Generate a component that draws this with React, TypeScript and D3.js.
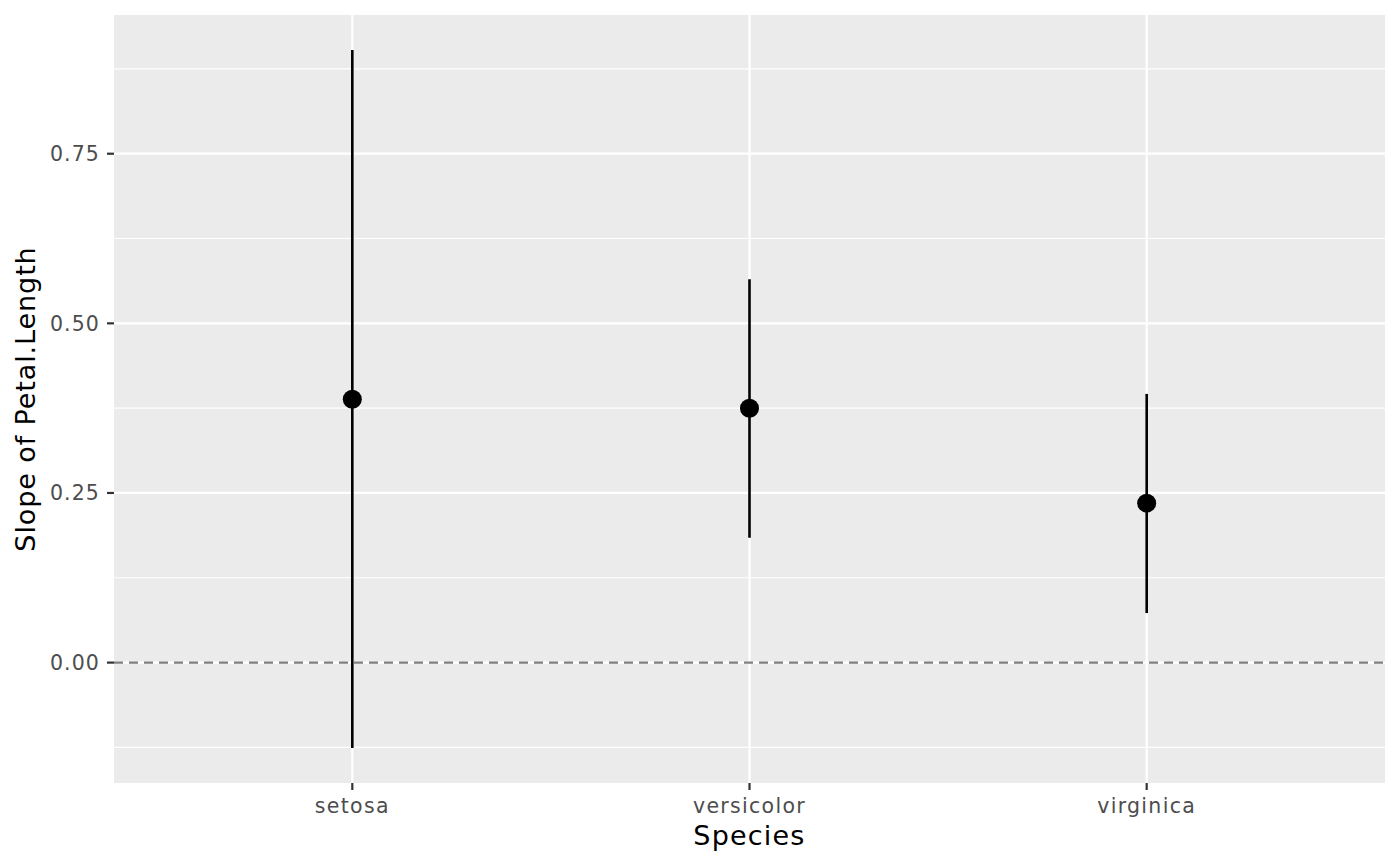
import * as d3 from 'd3';

const species = ['setosa', 'versicolor', 'virginica'];
const slope = [0.388, 0.375, 0.235];
const lower = [-0.126, 0.184, 0.073];
const upper = [0.903, 0.565, 0.396];
const yTicks = [0, 0.25, 0.5, 0.75];
const yMinor = [-0.125, 0.125, 0.375, 0.625, 0.875];

const width = 1400;
const height = 866;
const panel = { left: 114, right: 1385, top: 15, bottom: 783 };

const App = () => {
  const xScale = d3.scalePoint<string>()
    .domain(species)
    .range([panel.left, panel.right])
    .padding(0.6);

  const lo = d3.min(lower)!;
  const hi = d3.max(upper)!;
  const pad = (hi - lo) * 0.05;
  const yScale = d3.scaleLinear()
    .domain([lo - pad, hi + pad])
    .range([panel.bottom, panel.top]);

  const font = "'DejaVu Sans', sans-serif";

  return (
    <svg width={width} height={height} style={{ position: 'absolute', left: 0, top: 0 }}>
      <rect x={0} y={0} width={width} height={height} fill="#fff" />
      <rect x={panel.left} y={panel.top} width={panel.right - panel.left}
        height={panel.bottom - panel.top} fill="#ebebeb" />
      {yMinor.map(v => (
        <line key={'m' + v} x1={panel.left} x2={panel.right} y1={yScale(v)} y2={yScale(v)}
          stroke="#fff" strokeWidth={1.1} />
      ))}
      {yTicks.map(v => (
        <line key={'g' + v} x1={panel.left} x2={panel.right} y1={yScale(v)} y2={yScale(v)}
          stroke="#fff" strokeWidth={2.2} />
      ))}
      {species.map(s => (
        <line key={'v' + s} x1={xScale(s)} x2={xScale(s)} y1={panel.top} y2={panel.bottom}
          stroke="#fff" strokeWidth={2.2} />
      ))}
      <line x1={panel.left} x2={panel.right} y1={yScale(0)} y2={yScale(0)}
        stroke="#7f7f7f" strokeWidth={2.2} strokeDasharray="9,6" />
      {species.map((s, i) => (
        <g key={'p' + s}>
          <line x1={xScale(s)} x2={xScale(s)} y1={yScale(lower[i])} y2={yScale(upper[i])}
            stroke="#000" strokeWidth={2.6} />
          <circle cx={xScale(s)} cy={yScale(slope[i])} r={9.5} fill="#000" />
        </g>
      ))}
      {/* y axis */}
      {yTicks.map(v => (
        <g key={'t' + v}>
          <line x1={panel.left - 7} x2={panel.left} y1={yScale(v)} y2={yScale(v)}
            stroke="#333" strokeWidth={2.2} />
          <text x={panel.left - 14} y={yScale(v)} dy="0.36em" textAnchor="end"
            fontFamily={font} fontSize={20.5} letterSpacing={1.1} fill="#4d4d4d">{d3.format('.2f')(v)}</text>
        </g>
      ))}
      {/* x axis */}
      {species.map(s => (
        <g key={'x' + s}>
          <line x1={xScale(s)} x2={xScale(s)} y1={panel.bottom} y2={panel.bottom + 7}
            stroke="#333" strokeWidth={2.2} />
          <text x={xScale(s)} y={panel.bottom + 30} textAnchor="middle"
            fontFamily={font} fontSize={20.5} letterSpacing={1.3} fill="#4d4d4d">{s}</text>
        </g>
      ))}
      <text x={(panel.left + panel.right) / 2} y={845} textAnchor="middle"
        fontFamily={font} fontSize={27} letterSpacing={1.2} fill="#000">Species</text>
      <text transform={`translate(35,${(panel.top + panel.bottom) / 2}) rotate(-90)`}
        textAnchor="middle" fontFamily={font} fontSize={27} letterSpacing={0.9} fill="#000">Slope of Petal.Length</text>
    </svg>
  );
};

export default App;
